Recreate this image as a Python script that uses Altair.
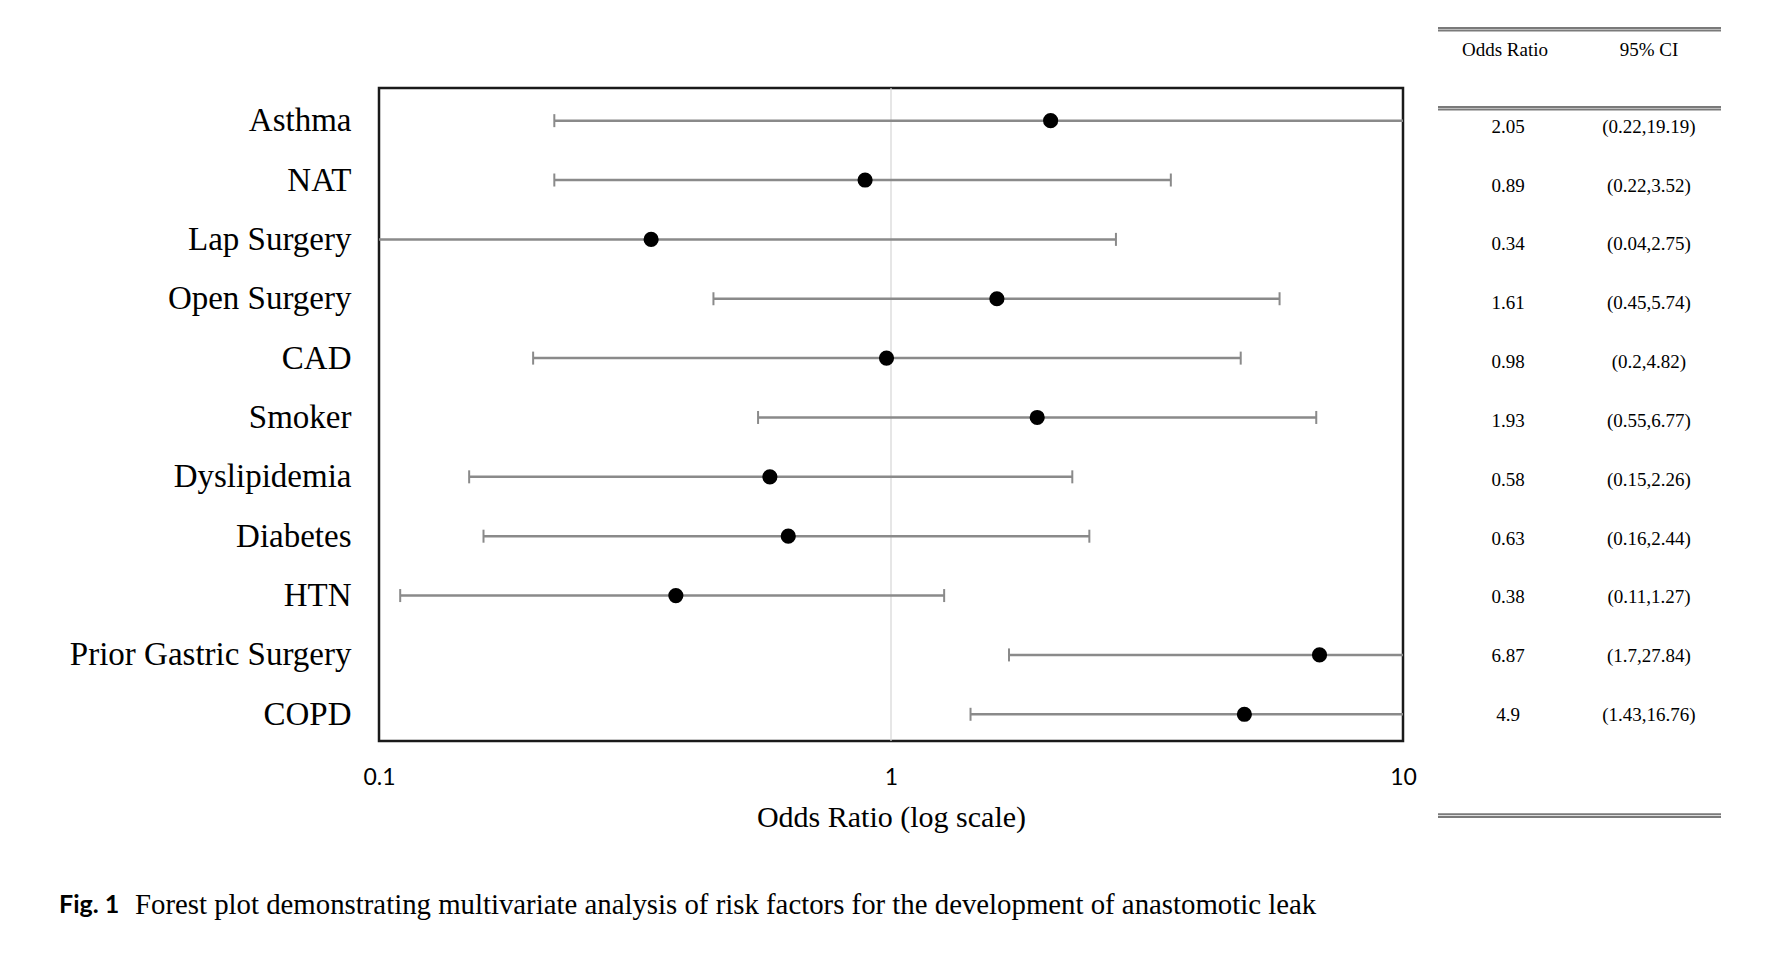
import altair as alt
import pandas as pd

# ---------------- data ----------------
factors = ["Asthma", "NAT", "Lap Surgery", "Open Surgery", "CAD", "Smoker",
           "Dyslipidemia", "Diabetes", "HTN", "Prior Gastric Surgery", "COPD"]
odds_ratio = [2.05, 0.89, 0.34, 1.61, 0.98, 1.93, 0.58, 0.63, 0.38, 6.87, 4.9]
ci_low = [0.22, 0.22, 0.04, 0.45, 0.2, 0.55, 0.15, 0.16, 0.11, 1.7, 1.43]
ci_high = [19.19, 3.52, 2.75, 5.74, 4.82, 6.77, 2.26, 2.44, 1.27, 27.84, 16.76]
or_labels = ["2.05", "0.89", "0.34", "1.61", "0.98", "1.93", "0.58", "0.63", "0.38", "6.87", "4.9"]
ci_labels = ["(0.22,19.19)", "(0.22,3.52)", "(0.04,2.75)", "(0.45,5.74)", "(0.2,4.82)",
             "(0.55,6.77)", "(0.15,2.26)", "(0.16,2.44)", "(0.11,1.27)", "(1.7,27.84)",
             "(1.43,16.76)"]
table_columns = ["Odds Ratio", "95% CI"]
x_ticks = [0.1, 1, 10]
x_domain = [0.1, 10]
reference_or = [1]
x_title = "Odds Ratio (log scale)"
caption_fig = ["Fig. 1"]
caption_text = ["Forest plot demonstrating multivariate analysis of risk factors for the development of anastomotic leak"]

# ---------------- styles ----------------
SERIF = "Liberation Serif"
SANS = "Lato"
LINE = "#8a8a8a"
PW, PH = 1024, 653
TW = 283

df = pd.DataFrame({"factor": factors, "or": odds_ratio, "lo": ci_low, "hi": ci_high})

x_scale = alt.Scale(type="log", domain=x_domain, nice=False)
x_axis = alt.Axis(values=x_ticks, format="~g", labelFont=SANS, labelFontSize=23,
                  labelColor="black", labelPadding=25, ticks=False, tickSize=0,
                  domain=False, grid=False, labelFlush=False,
                  title=x_title, titleFont=SERIF, titleFontSize=30,
                  titleFontWeight="normal", titleColor="black",
                  titleBaseline="middle", titleY=76)
y_scale = alt.Scale(type="point", padding=0.5, align=0.55)
y_axis = alt.Axis(title=None, labelFont=SERIF, labelFontSize=33, labelColor="black",
                  labelPadding=28, labelLimit=600, ticks=False, tickSize=0,
                  domain=False, grid=False)
y_enc = alt.Y("factor:N", sort=factors, scale=y_scale, axis=y_axis)

ref = alt.Chart(pd.DataFrame({"ref": reference_or})).mark_rule(
    color="#d6d6d6", strokeWidth=1.2
).encode(x=alt.X("ref:Q", scale=x_scale, axis=x_axis))

whisk = alt.Chart(df).mark_rule(color=LINE, strokeWidth=2.5, clip=True).encode(
    x=alt.X("lo:Q", scale=x_scale, axis=x_axis), x2="hi:Q", y=y_enc
)
caps_lo = alt.Chart(df).transform_filter("datum.lo >= 0.1").mark_tick(
    color=LINE, size=13, thickness=2, opacity=1
).encode(x=alt.X("lo:Q", scale=x_scale, axis=x_axis), y=y_enc)
caps_hi = alt.Chart(df).transform_filter("datum.hi <= 10").mark_tick(
    color=LINE, size=13, thickness=2, opacity=1
).encode(x=alt.X("hi:Q", scale=x_scale, axis=x_axis), y=y_enc)
dots = alt.Chart(df).mark_circle(size=230, color="black", opacity=1).encode(
    x=alt.X("or:Q", scale=x_scale, axis=x_axis), y=y_enc
)

cap1 = alt.Chart(pd.DataFrame({"t": caption_fig})).mark_text(
    font=SANS, fontWeight="bold", fontSize=25, align="left", baseline="middle", color="black"
).encode(x=alt.value(-320), y=alt.value(817), text="t:N")
cap2 = alt.Chart(pd.DataFrame({"t": caption_text})).mark_text(
    font=SERIF, fontSize=28.8, align="left", baseline="middle", color="black"
).encode(x=alt.value(-244), y=alt.value(817), text="t:N")

plot = alt.layer(ref, whisk, caps_lo, caps_hi, dots, cap1, cap2).properties(
    width=PW, height=PH,
    view=alt.ViewBackground(stroke="#1a1a1a", strokeWidth=2.5, fill="white"),
)

# ---------------- table ----------------
tdf = pd.DataFrame({
    "factor": factors * 2,
    "col": [table_columns[0]] * len(factors) + [table_columns[1]] * len(factors),
    "text": or_labels + ci_labels,
})
x_t = alt.X("col:N", scale=alt.Scale(type="point", domain=table_columns, range=[70, 211], padding=0), axis=None)
y_t = alt.Y("factor:N", sort=factors, scale=alt.Scale(type="point", padding=0.549, align=0.6), axis=None)

values = alt.Chart(tdf).mark_text(font=SERIF, fontSize=19, color="black", baseline="middle").encode(
    x=x_t, y=y_t, text="text:N"
)
header_or = alt.Chart(pd.DataFrame({"col": table_columns[:1]})).mark_text(
    font=SERIF, fontSize=19, color="black", baseline="middle", dx=-3
).encode(x=x_t, y=alt.value(-38), text="col:N")
header_ci = alt.Chart(pd.DataFrame({"col": table_columns[1:]})).mark_text(
    font=SERIF, fontSize=19, color="black", baseline="middle"
).encode(x=x_t, y=alt.value(-38), text="col:N")


def hrule(yv):
    return alt.Chart(pd.DataFrame({"k": [0]})).mark_rule(color="#7a7a7a", strokeWidth=2).encode(
        x=alt.value(0), x2=alt.value(TW), y=alt.value(yv)
    )


rules = [hrule(v) for v in (-60, -57.5, 19, 21.5, 726.3, 729)]

table = alt.layer(*rules, header_or, header_ci, values).properties(
    width=TW, height=PH,
    view=alt.ViewBackground(stroke="transparent"),
)

chart = alt.hconcat(plot, table, spacing=35, bounds="flush").resolve_scale(
    x="independent", y="independent"
).properties(
    padding={"left": 49, "top": 18, "right": 5, "bottom": 5},
    background="white",
).configure_view(stroke="transparent")

chart.save("out.html", embed_options={"renderer": "svg", "actions": False})
